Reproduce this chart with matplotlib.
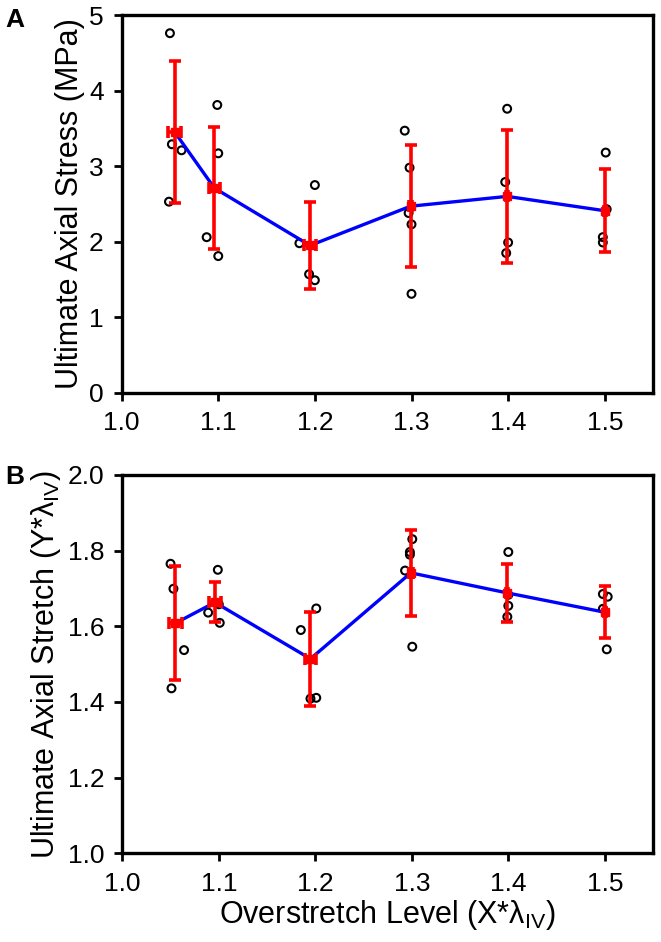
import numpy as np
import matplotlib
matplotlib.use("Agg")
import matplotlib.pyplot as plt

plt.rcParams['font.family'] = ['Liberation Sans', 'DejaVu Sans']
plt.rcParams['mathtext.fontset'] = 'custom'
plt.rcParams['mathtext.rm'] = 'Liberation Sans'
plt.rcParams['mathtext.it'] = 'Liberation Sans:italic'

# group means (overstretch level) and spreads
level_mean = [1.055, 1.096, 1.195, 1.299, 1.399, 1.500]
level_sd = [0.0065, 0.006, 0.006, 0.002, 0.001, 0.001]

# panel A: ultimate axial stress (MPa)
stress_mean = [3.45, 2.71, 1.95, 2.47, 2.60, 2.41]
stress_sd = [0.94, 0.81, 0.58, 0.81, 0.88, 0.55]
stress_x = [1.050, 1.052, 1.062, 1.049,
            1.099, 1.100, 1.088, 1.100,
            1.200, 1.184, 1.194, 1.200,
            1.293, 1.298, 1.297, 1.300, 1.300,
            1.399, 1.397, 1.400, 1.398,
            1.501, 1.502, 1.498, 1.498]
stress_y = [4.76, 3.29, 3.21, 2.53,
            3.81, 3.17, 2.06, 1.81,
            2.75, 1.98, 1.57, 1.49,
            3.47, 2.98, 2.38, 2.23, 1.31,
            3.76, 2.79, 1.99, 1.85,
            3.18, 2.43, 2.06, 1.99]

# panel B: ultimate axial stretch
stretch_mean = [1.608, 1.663, 1.514, 1.741, 1.688, 1.637]
stretch_sd = [0.151, 0.053, 0.124, 0.114, 0.076, 0.069]
stretch_x = [1.050, 1.053, 1.064, 1.051,
             1.099, 1.089, 1.101, 1.100,
             1.201, 1.185, 1.195, 1.201,
             1.3005, 1.298, 1.298, 1.293, 1.3005,
             1.400, 1.400, 1.399, 1.400,
             1.498, 1.503, 1.498, 1.502]
stretch_y = [1.765, 1.699, 1.537, 1.436,
             1.749, 1.636, 1.609, 1.658,
             1.647, 1.590, 1.409, 1.411,
             1.830, 1.796, 1.789, 1.747, 1.546,
             1.796, 1.654, 1.625, 1.683,
             1.685, 1.678, 1.646, 1.539]

x_ticks = [1.0, 1.1, 1.2, 1.3, 1.4, 1.5]

fig = plt.figure(figsize=(6.61, 9.42), dpi=100)
axA = fig.add_axes([0.184, 0.583, 0.804, 0.401])
axB = fig.add_axes([0.185, 0.094, 0.803, 0.402])


def draw_panel(ax, px, py, m, sd, ylim, yticks, ylabel):
    ax.scatter(px, py, s=32, facecolors='none', edgecolors='black', linewidths=1.5, zorder=2)
    ax.plot(level_mean, m, color='#0000ff', lw=2.4, zorder=3)
    ax.errorbar(level_mean, m, yerr=sd, xerr=level_sd, fmt='s', color='#ff0000',
                ms=6, elinewidth=2.6, capsize=4, capthick=2.6, zorder=4, ls='none')
    ax.set_xlim(1.0, 1.55)
    ax.set_ylim(*ylim)
    ax.set_xticks(x_ticks)
    ax.set_xticklabels(["%.1f" % t for t in x_ticks])
    ax.set_yticks(yticks)
    ax.set_ylabel(ylabel, fontsize=22, labelpad=3)
    ax.tick_params(labelsize=19, width=2, length=6, direction='out', pad=7)
    for s in ax.spines.values():
        s.set_linewidth(2.4)


draw_panel(axA, stress_x, stress_y, stress_mean, stress_sd, (0, 5), [0, 1, 2, 3, 4, 5],
           "Ultimate Axial Stress (MPa)")
axA.set_yticklabels(["0", "1", "2", "3", "4", "5"])

draw_panel(axB, stretch_x, stretch_y, stretch_mean, stretch_sd, (1.0, 2.0),
           [1.0, 1.2, 1.4, 1.6, 1.8, 2.0], r"Ultimate Axial Stretch (Y*λ$_{\mathrm{IV}}$)")
axB.set_yticklabels(["1.0", "1.2", "1.4", "1.6", "1.8", "2.0"])
axB.set_xlabel(r"Overstretch Level (X*λ$_{\mathrm{IV}}$)", fontsize=22, labelpad=2)

fig.text(0.008, 0.991, "A", fontsize=19, fontweight='bold', va='top')
fig.text(0.008, 0.506, "B", fontsize=19, fontweight='bold', va='top')

fig.savefig("out.png", dpi=100)
